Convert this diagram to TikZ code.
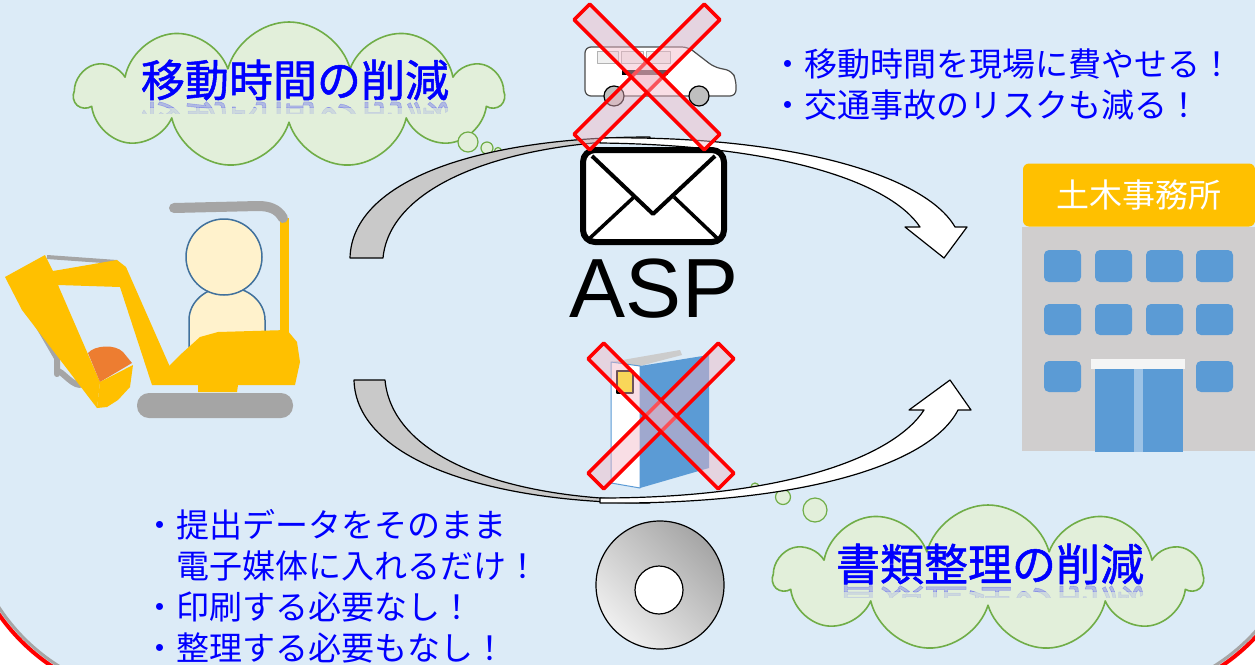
\documentclass[tikz,border=0pt]{standalone}
\usepackage{fontspec}
\setmainfont{Noto Sans CJK JP}
\newfontfamily\titlefont[FakeBold=1.2]{Noto Sans CJK JP}
\newfontfamily\latinfont{Liberation Sans}
\usetikzlibrary{shapes.symbols,positioning}

\definecolor{bgblue}{HTML}{DCEBF7}
\definecolor{jpblue}{HTML}{0000FF}
\definecolor{cloudline}{HTML}{70AD47}
\definecolor{cloudfill}{HTML}{E2EFDA}
\definecolor{xred}{HTML}{FF0000}
\definecolor{xpink}{HTML}{F2B8C6}
\definecolor{bandgrey}{HTML}{C9C9C9}
\definecolor{signorange}{HTML}{FFC000}
\definecolor{wallgrey}{HTML}{D0CECE}
\definecolor{winblue}{HTML}{5B9BD5}
\definecolor{doorline}{HTML}{9DC3E6}
\definecolor{digyellow}{HTML}{FFC000}
\definecolor{digorange}{HTML}{ED7D31}
\definecolor{diggrey}{HTML}{A5A5A5}
\definecolor{skin}{HTML}{FFF2CC}
\definecolor{skinline}{HTML}{41719C}

\begin{document}
\begin{tikzpicture}[x=1pt,y=-1pt,line join=round,
    thought/.style={cloud,cloud puffs=11,aspect=2.9,draw=cloudline,fill=cloudfill,
      line width=1.6pt,minimum width=428pt,minimum height=146pt,inner sep=0pt},
    bubble/.style={draw=cloudline,fill=cloudfill,line width=1.2pt},
    title/.style={text=jpblue,font=\titlefont\fontsize{44}{44}\selectfont,inner sep=0pt},
    bullets/.style={text=jpblue,font=\fontsize{33}{41}\selectfont,align=left,inner sep=0pt},
    band/.style={draw=black,line width=1.2pt},
    cross/.style={draw=xred,fill=xpink,fill opacity=0.45,line width=3.5pt},
    window/.style={fill=winblue,rounded corners=5pt}]

  \useasboundingbox (0,0) rectangle (1255,664);
  \fill[white] (0,0) rectangle (1255,664);

  % backdrop with red rim
  \begin{scope}
    \clip (0,0) rectangle (1255,664);
    \fill[bgblue,rounded corners=200pt] (-37,-100) rectangle (1310,700);
    \draw[gray!70,line width=3pt,rounded corners=196pt] (-33,-96) rectangle (1306,696);
    \draw[xred,line width=4pt,rounded corners=200pt] (-37,-100) rectangle (1310,700);
  \end{scope}

  % thought clouds
  \node (cloudtime) at (289,95) [thought] {};
  \draw[bubble] (468,142) circle [radius=10];
  \draw[bubble] (487,148) circle [radius=6];
  \draw[bubble] (498,151) circle [radius=3.5];
  \node (timetitle) at (295,80) [title] {移動時間の削減};
  \begin{scope}
    \clip (120,101) rectangle (470,107);
    \node (timeshadow) at (295,122) [title,opacity=0.22] {\scalebox{1}[-1]{移動時間の削減}};
  \end{scope}
  \begin{scope}
    \clip (120,107) rectangle (470,113);
    \node (timefade) at (295,122) [title,opacity=0.09] {\scalebox{1}[-1]{移動時間の削減}};
  \end{scope}

  \node (cloudpaper) at (988,578) [thought] {};
  \draw[bubble] (815,510) circle [radius=12];
  \draw[bubble] (783,497) circle [radius=7.5];
  \draw[bubble] (755,487) circle [radius=4];
  \node (papertitle) at (990,564) [title] {書類整理の削減};
  \begin{scope}
    \clip (815,585) rectangle (1165,591);
    \node (papershadow) at (990,606) [title,opacity=0.22] {\scalebox{1}[-1]{書類整理の削減}};
  \end{scope}
  \begin{scope}
    \clip (815,591) rectangle (1165,597);
    \node (paperfade) at (990,606) [title,opacity=0.09] {\scalebox{1}[-1]{書類整理の削減}};
  \end{scope}

  % upper curved arrow
  \filldraw[band,fill=bandgrey] (350,258) .. controls (352,180) and (480,137) .. (650,137)
    -- (650,140) .. controls (505,142) and (390,185) .. (383,258) -- cycle;
  \filldraw[band,fill=white] (600,138) .. controls (790,135) and (925,175) .. (955,227)
    -- (967,227) -- (944,258) -- (905,227) -- (920,227)
    .. controls (890,182) and (780,145) .. (600,143) -- cycle;

  % lower curved arrow
  \filldraw[band,fill=bandgrey] (354,380) .. controls (356,460) and (490,503) .. (650,503)
    -- (650,500) .. controls (500,499) and (392,455) .. (385,380) -- cycle;
  \filldraw[band,fill=white] (600,503) .. controls (800,505) and (930,465) .. (958,410)
    -- (971,410) -- (950,380) -- (909,410) -- (924,410)
    .. controls (895,455) and (790,498) .. (600,498) -- cycle;

  % mail
  \filldraw[draw=black,fill=white,line width=6pt,rounded corners=12pt] (583,150) rectangle (724,242);
  \draw[line width=4pt] (592,156) -- (653,214) -- (715,156);
  \draw[line width=3.5pt] (590,238) -- (634,197);
  \draw[line width=3.5pt] (717,238) -- (674,197);
  \node (asp) at (654,317) [anchor=base,inner sep=0pt,font=\latinfont\fontsize{84}{84}\selectfont] {ASP};

  % van
  \filldraw[draw=gray!60!black,fill=white,line width=1.2pt,rounded corners=6pt]
    (585,96) -- (585,47) -- (688,47) -- (714,67) -- (732,71) -- (736,80) -- (736,96) -- cycle;
  \filldraw[draw=gray!60,fill=gray!12,line width=0.8pt] (597,51) rectangle (618,63);
  \filldraw[draw=gray!60,fill=gray!12,line width=0.8pt] (621,51) rectangle (643,63);
  \filldraw[draw=gray!60,fill=gray!12,line width=0.8pt] (646,51) rectangle (670,63);
  \fill[black] (622,70) rectangle (668,75);
  \filldraw[draw=black,fill=gray!50,line width=1.2pt] (614,96) circle [radius=10];
  \filldraw[draw=black,fill=gray!50,line width=1.2pt] (699,96) circle [radius=10];
  \begin{scope}[shift={(647,77)}]
    \filldraw[cross,rotate=45] (-92,-11) rectangle (92,11);
    \filldraw[cross,rotate=-45] (-92,-11) rectangle (92,11);
  \end{scope}

  % binder
  \fill[gray!40] (611,362) -- (680,350) -- (682,355) -- (640,366) -- cycle;
  \filldraw[draw=winblue,fill=white,line width=1pt] (611,362) -- (640,366) -- (640,488) -- (611,483) -- cycle;
  \fill[winblue] (640,366) -- (709,355) -- (709,468) -- (640,488) -- cycle;
  \filldraw[fill=yellow,draw=black,line width=1.5pt] (617,371) rectangle (633,393);
  \begin{scope}[shift={(661,416)}]
    \filldraw[cross,rotate=45] (-92,-11) rectangle (92,11);
    \filldraw[cross,rotate=-45] (-92,-11) rectangle (92,11);
  \end{scope}

  % disc
  \shadedraw[draw=black,line width=1.2pt,left color=gray!70,right color=gray!12,shading angle=-45]
    (660,585) circle [radius=64];
  \filldraw[draw=black,fill=white,line width=1.2pt] (659,590) circle [radius=24];

  % notes
  \node (merits) at (771,85) [anchor=west,bullets] {・移動時間を現場に費やせる！\\・交通事故のリスクも減る！};
  \node (savings) at (143,586) [anchor=west,bullets] {・提出データをそのまま\\　電子媒体に入れるだけ！\\・印刷する必要なし！\\・整理する必要もなし！};

  % office building
  \fill[wallgrey] (1022,227) rectangle (1255,451);
  \node (office) at (1139,195) [fill=signorange,rounded corners=6pt,minimum width=232pt,minimum height=63pt,
    text=white,font=\fontsize{33}{33}\selectfont,inner sep=0pt] {土木事務所};
  \foreach \x in {1044,1095,1146,1196} {
    \fill[window] (\x,250) rectangle ++(37,32);
    \fill[window] (\x,304) rectangle ++(37,31);
  }
  \fill[window] (1044,361) rectangle ++(37,31);
  \fill[window] (1196,361) rectangle ++(37,31);
  \fill[gray!8] (1091,359) rectangle (1185,369);
  \fill[winblue] (1095,369) rectangle (1183,452);
  \fill[doorline] (1134,369) rectangle (1143,452);

  % excavator
  \draw[diggrey,line width=4pt] (47,257) -- (117,262);
  \draw[diggrey,line width=6pt,line cap=round] (28,308) -- (57,358) -- (57,374) to[out=90,in=180] (80,385);
  \fill[digyellow] (5,277) -- (45,255) -- (53,271) -- (117,260) -- (126,267) -- (170,367) -- (152,385)
    -- (120,287) -- (58,285) -- (100,382) -- (97,408) -- (22,310) -- cycle;
  \fill[digorange] (100,382) -- (88,353) .. controls (95,345) and (115,344) .. (123,352) -- (132,363) -- cycle;
  \fill[digyellow] (100,382) -- (133,365) -- (130,387) -- (118,400) -- (107,407) -- (97,408) -- cycle;
  \filldraw[draw=skinline,fill=skin,line width=1.5pt] (189,347) -- (189,320)
    arc [start angle=180,end angle=360,x radius=38,y radius=33] -- (265,347) -- cycle;
  \filldraw[draw=skinline,fill=skin,line width=1.5pt] (224,257) circle [radius=38];
  \fill[digyellow] (280,218) rectangle (289,332);
  \draw[diggrey,line width=10pt,line cap=round] (174,208) -- (258,206) to[out=0,in=120] (283,218);
  \fill[digyellow] (152,385) -- (170,365) -- (180,355) -- (200,337) -- (218,332) -- (287,330) -- (297,342)
    -- (300,362) -- (295,385) -- (238,385) -- (237,392) -- (198,392) -- (198,385) -- cycle;
  \fill[diggrey,rounded corners=12pt] (137,393) rectangle (293,418);
\end{tikzpicture}
\end{document}
